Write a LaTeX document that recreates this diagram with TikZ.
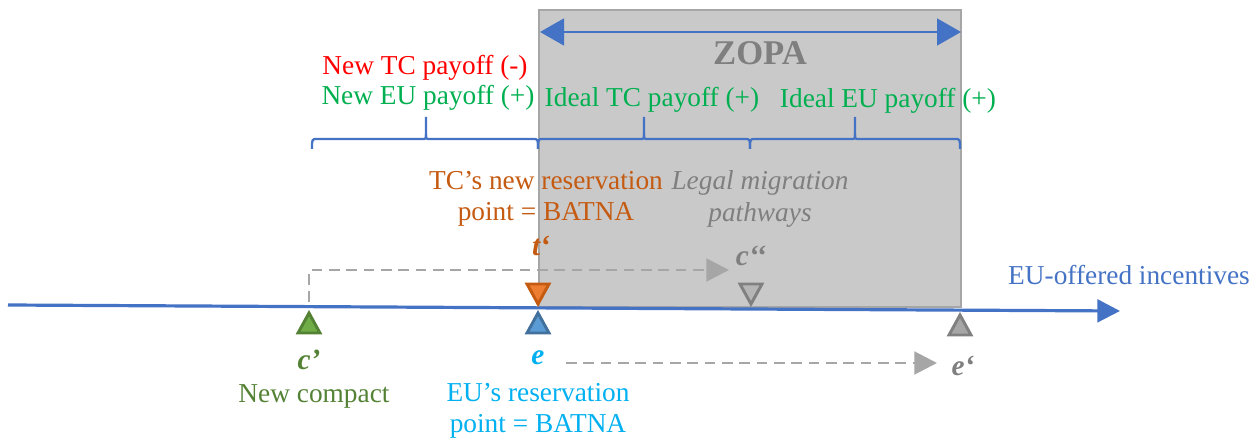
\documentclass[tikz,border=0pt]{standalone}
\usepackage{fontspec}
\setmainfont{Liberation Serif}
\usetikzlibrary{arrows.meta}
\definecolor{axisblue}{HTML}{4472C4}
\definecolor{txtred}{HTML}{FF0000}
\definecolor{txtgreen}{HTML}{00B050}
\definecolor{txtorange}{HTML}{C55A11}
\definecolor{txtcyan}{HTML}{00B0F0}
\definecolor{txtgray}{HTML}{7F7F7F}
\definecolor{darkgreen}{HTML}{548235}
\definecolor{boxfill}{HTML}{C9C9C9}
\definecolor{boxline}{HTML}{A6A6A6}
\definecolor{dashgray}{HTML}{A6A6A6}
\tikzset{
  lbl/.style={inner sep=0pt, font=\fontsize{20.5}{23.5}\selectfont, align=center},
  ptlbl/.style={inner sep=0pt, font=\fontsize{22}{24}\selectfont\bfseries\itshape},
  bracestyle/.style={draw=axisblue, line width=1.7pt},
  dasharrow/.style={draw=dashgray, line width=2.2pt, dash pattern=on 8pt off 5pt,
     -{Triangle[length=17pt,width=17pt,fill=dashgray]}},
  tri/.style={line width=2.2pt, line join=miter}
}
\newcommand\mybrace[3]{%
  \draw[bracestyle] (#1,149) .. controls (#1,139) .. (#1+5,139) -- (#2-4,139)
     .. controls (#2,139) .. (#2,134) -- (#2,117);
  \draw[bracestyle] (#2,134) .. controls (#2,139) .. (#2+4,139) -- (#3-5,139)
     .. controls (#3,139) .. (#3,149);
}
\begin{document}
\begin{tikzpicture}[x=0.75pt,y=-0.75pt]
\useasboundingbox (0,0) rectangle (1259,441);
% ZOPA box
\node[draw=boxline, fill=boxfill, line width=1.2pt, minimum width=422*0.75pt,
  minimum height=297*0.75pt, anchor=north west, inner sep=0pt] (zopabox) at (538,9) {};
% ZOPA arrow
\coordinate (zl) at (540,32);
\coordinate (zr) at (961,32);
\draw[axisblue, line width=2pt, {Triangle[length=18pt,width=20pt]}-{Triangle[length=18pt,width=20pt]}] (zl) -- (zr);
\node[inner sep=0pt, font=\fontsize{26}{28}\selectfont\bfseries, text=txtgray] (zopa) at (760,53) {ZOPA};
% payoff labels
\node[lbl, text=txtred] (ntc) at (425,68) {New TC payoff (-)};
\node[lbl, text=txtgreen] (neu) at (428,98) {New EU payoff (+)};
\node[lbl, text=txtgreen] (itc) at (652,100) {Ideal TC payoff (+)};
\node[lbl, text=txtgreen] (ieu) at (888,101) {Ideal EU payoff (+)};
% braces
\mybrace{312}{426}{538}
\mybrace{538}{644}{750}
\mybrace{750}{855}{960}
% upper labels
\node[lbl, text=txtorange] (tcres) at (546,199) {TC’s new reservation\\point = BATNA};
\node[lbl, text=txtgray, font=\fontsize{20.5}{23.5}\selectfont\itshape] (legal) at (760,199) {Legal migration\\pathways};
\node[ptlbl, text=txtorange] (tp) at (541,246) {t‘};
\node[ptlbl, text=txtgray] (cpp) at (751,256) {c‘‘};
% axis
\coordinate (axL) at (8,305);
\coordinate (axR) at (1120,311);
\draw[axisblue, line width=2.4pt, -{Triangle[length=17pt,width=17pt]}] (axL) -- (axR);
\node[lbl, text=axisblue] (axlbl) at (1129,275) {EU-offered incentives};
% triangles above axis (pointing down)
\filldraw[tri, fill={rgb,255:red,237;green,125;blue,49}, draw=txtorange] (527,284) -- (549,284) -- (538,304) -- cycle;
\coordinate (tdown) at (538,284);
\filldraw[tri, fill=boxfill!90!black, draw=gray] (740,284) -- (762,284) -- (751,304) -- cycle;
% triangles below axis (pointing up)
\filldraw[tri, fill={rgb,255:red,112;green,173;blue,71}, draw=darkgreen] (298,333) -- (320,333) -- (309,313) -- cycle;
\coordinate (cptop) at (309,302);
\filldraw[tri, fill={rgb,255:red,91;green,155;blue,213}, draw={rgb,255:red,65;green,113;blue,156}] (527,333) -- (549,333) -- (538,313) -- cycle;
\filldraw[tri, fill=dashgray, draw=gray] (949,335) -- (971,335) -- (960,315) -- cycle;
% lower labels
\node[ptlbl, text=darkgreen] (cp) at (309,360) {c’};
\node[ptlbl, text=txtcyan] (e) at (538,358) {e};
\node[ptlbl, text=txtgray] (ep) at (963,366) {e‘};
\node[lbl, text=darkgreen] (newc) at (314,396) {New compact};
\node[lbl, text=txtcyan] (eures) at (538,411) {EU’s reservation\\point = BATNA};
% dashed arrows
\coordinate (cpparr) at (729,270);
\draw[dasharrow] (cptop) |- (cpparr);
\coordinate (estart) at (566,363);
\coordinate (eparr) at (937,363);
\draw[dasharrow] (estart) -- (eparr);
\end{tikzpicture}
\end{document}
